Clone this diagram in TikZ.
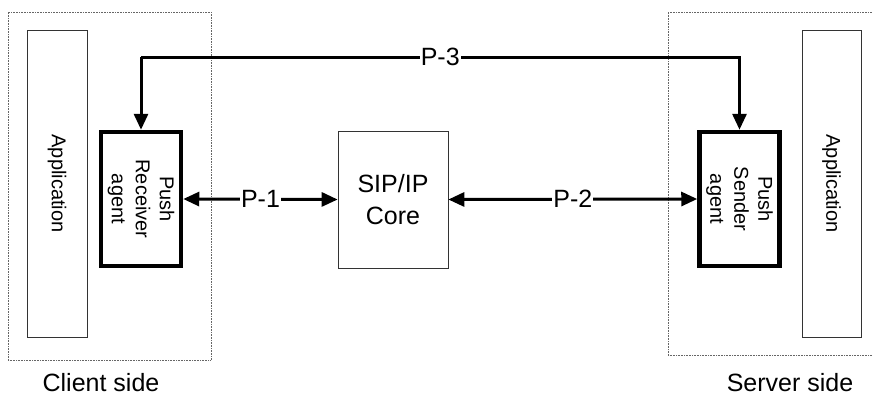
\documentclass[tikz,border=0pt]{standalone}
\usepackage{fontspec}
\setmainfont{Liberation Sans}
\usetikzlibrary{arrows.meta}
\begin{document}
\begin{tikzpicture}[x=1pt,y=-1pt,
  sidebox/.style={draw=black!60,densely dotted,line width=0.6pt,inner sep=0pt},
  box/.style={draw=black!80,line width=0.7pt,inner sep=0pt},
  agentbox/.style={draw=black,line width=4.5pt,inner sep=0pt,minimum width=80pt,minimum height=134pt},
  arr/.style={line width=3pt,{Triangle[length=16pt,width=14pt]}-{Triangle[length=16pt,width=14pt]}},
  darr/.style={line width=3pt,-{Triangle[length=16pt,width=14pt]}},
  lbl/.style={fill=white,inner sep=1pt,font=\fontsize{25}{25}\selectfont},
  vtext/.style={rotate=-90,align=center,font=\fontsize{20}{24}\selectfont}]
\useasboundingbox (0,0) rectangle (873,400);
\node[sidebox,minimum width=203pt,minimum height=348pt] (client) at (109.5,186) {};
\node[sidebox,minimum width=212pt,minimum height=343pt] (server) at (774,183.5) {};
\node[box,minimum width=60pt,minimum height=307pt] (capp) at (57,183.5) {};
\node[vtext] (capptxt) at (capp.center) {Application};
\node[box,minimum width=59pt,minimum height=307pt] (sapp) at (831.5,183.5) {};
\node[vtext] (sapptxt) at (sapp.center) {Application};
\node[agentbox] (recv) at (141,199) {};
\node[vtext] (recvtxt) at (recv.center) {Push\\Receiver\\agent};
\node[agentbox] (send) at (739.5,199) {};
\node[vtext] (sendtxt) at (send.center) {Push\\Sender\\agent};
\node[box,minimum width=110pt,minimum height=137pt,align=center,font=\fontsize{25}{32}\selectfont] (sip) at (393,199.5) {SIP/IP\\Core};
\draw[arr] (recv.east) -- node[lbl]{P-1} (sip.west);
\draw[arr] (sip.east) -- node[lbl]{P-2} (send.west);
\coordinate (top) at (0,57);
\draw[darr,line join=miter] (recv.north |- top) -- node[lbl]{P-3} (send.north |- top) -- (send.north);
\draw[darr] (recv.north |- top) -- (recv.north);
\node[font=\fontsize{25}{25}\selectfont] (cl) at (101,383) {Client side};
\node[font=\fontsize{25}{25}\selectfont] (sl) at (790,383) {Server side};
\end{tikzpicture}
\end{document}
